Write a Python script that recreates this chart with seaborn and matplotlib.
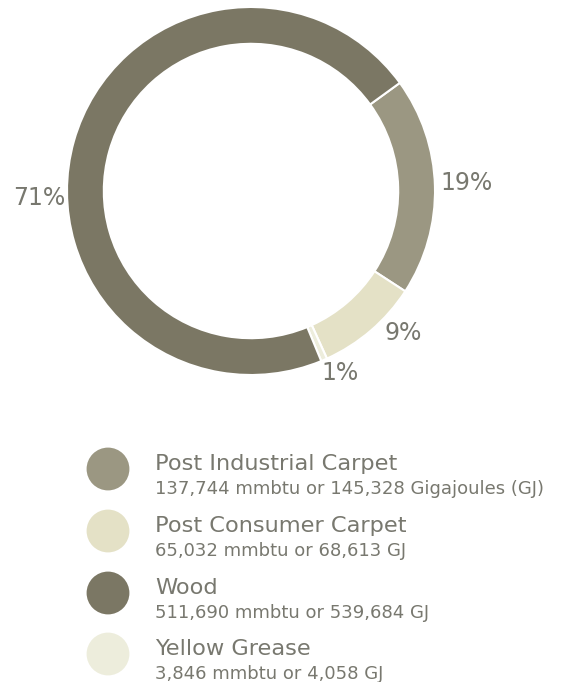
import numpy as np
import matplotlib
matplotlib.use("Agg")
import matplotlib.pyplot as plt
import seaborn as sns

# Energy sources
categories = ["Post Industrial Carpet", "Post Consumer Carpet", "Wood", "Yellow Grease"]
mmbtu = [137744, 65032, 511690, 3846]
gigajoules = ["145,328 Gigajoules (GJ)", "68,613 GJ", "539,684 GJ", "4,058 GJ"]
colors = ["#9b9782", "#e4e1c6", "#7b7764", "#ededdc"]

# Ring drawing order (clockwise from the top right)
ring_order = ["Post Industrial Carpet", "Post Consumer Carpet", "Yellow Grease", "Wood"]
# Where each percentage label sits around the ring (degrees)
label_angle = {"Post Industrial Carpet": 2, "Post Consumer Carpet": -43,
               "Yellow Grease": -64, "Wood": 182}
label_radius = {"Post Industrial Carpet": 1.17, "Post Consumer Carpet": 1.13,
                "Yellow Grease": 1.10, "Wood": 1.15}

sns.set_theme(style="white")
plt.rcParams["font.family"] = ["DejaVu Sans"]

W, H = 570, 682
fig = plt.figure(figsize=(W / 100, H / 100), dpi=100)
fig.patch.set_facecolor("white")

text_color = "#78786f"

# Donut
cx, cy, r = 251, 191, 184
ax = fig.add_axes([(cx - r) / W, 1 - (cy + r) / H, 2 * r / W, 2 * r / H])
ax.set_aspect("equal")
ax.axis("off")

idx = [categories.index(c) for c in ring_order]
vals = [mmbtu[i] for i in idx]
cols = [colors[i] for i in idx]
total = sum(mmbtu)
ax.pie(vals, colors=cols, startangle=36, counterclock=False, radius=1.0,
       wedgeprops=dict(width=0.2, edgecolor="white", linewidth=1.5))
ax.set_xlim(-1, 1)
ax.set_ylim(-1, 1)

for c, v in zip(ring_order, vals):
    pct = round(100 * v / total)
    a = np.deg2rad(label_angle[c])
    rr = label_radius[c]
    ax.text(rr * np.cos(a), rr * np.sin(a), f"{pct}%", ha="center", va="center",
            fontsize=17, color=text_color, clip_on=False)

# Legend
lax = fig.add_axes([0, 0, 1, 1])
rows_y = [469, 531, 593, 654]
sns.scatterplot(x=[108] * 4, y=rows_y, hue=categories, palette=colors, s=950,
                linewidth=0, legend=False, ax=lax)
for name, mm, gj, y in zip(categories, mmbtu, gigajoules, rows_y):
    lax.text(155, y + 1, name, fontsize=16.2, color=text_color, va="baseline", ha="left")
    lax.text(155, y + 25, f"{mm:,} mmbtu or {gj}", fontsize=13, color=text_color,
             va="baseline", ha="left")
lax.set_xlim(0, W)
lax.set_ylim(H, 0)
lax.axis("off")

fig.savefig("out.png", dpi=100, facecolor="white")
